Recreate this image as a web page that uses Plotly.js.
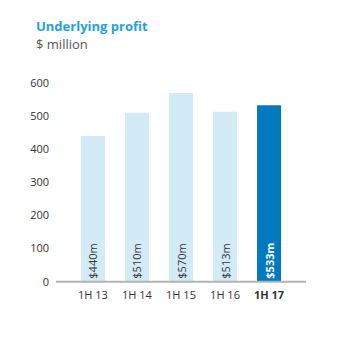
<!DOCTYPE html>
<html><head><meta charset="utf-8">
<script src="https://cdn.plot.ly/plotly-3.0.1.min.js"></script>
<style>body{margin:0;background:#fff}#c{width:341px;height:360px}</style>
</head><body><div id="c"></div>
<script>
var categories = ['1H 13','1H 14','1H 15','1H 16','1H 17'];
var tickLabels = ['1H 13','1H 14','1H 15','1H 16','<b>1H 17</b>'];
var profit = [440, 510, 570, 513, 533];
var barLabels = ['$440m','$510m','$570m','$513m','<b>$533m</b>'];
var yTicks = [0,100,200,300,400,500,600];

var light = '#d3eaf7', dark = '#0079bf';
var colors = categories.map(function(c,i){return i===categories.length-1?dark:light;});
var textColors = categories.map(function(c,i){return i===categories.length-1?'#ffffff':'#333333';});

var trace = {
  type:'bar', x:[0,1,2,3,4], y:profit, width:0.545,
  marker:{color:colors},
  text:barLabels, textposition:'inside', insidetextanchor:'start', textangle:-90,
  textfont:{family:'Open Sans, sans-serif', size:11, color:textColors},
  hoverinfo:'none', cliponaxis:false
};
var layout = {
  width:341, height:360, paper_bgcolor:'#fff', plot_bgcolor:'#fff',
  margin:{l:56, r:35, t:83, b:77},
  showlegend:false,
  font:{family:'Open Sans, sans-serif', color:'#333'},
  xaxis:{range:[-0.84,4.84], tickvals:[0,1,2,3,4], ticktext:tickLabels, showgrid:false,
         zeroline:false, showline:false, ticks:'', tickfont:{size:11,color:'#333'}, ticklabelstandoff:4, fixedrange:true},
  yaxis:{range:[-4,600], tickvals:yTicks, showgrid:false, zeroline:false, showline:false,
         ticks:'', tickfont:{size:11,color:'#333'}, ticklabelstandoff:6},
  shapes:[{type:'line', xref:'paper', yref:'y', x0:0, x1:1, y0:0, y1:0, line:{color:'#b3b3b3', width:2}, layer:'above'}],
  annotations:[
    {xref:'paper', yref:'paper', x:-0.09, y:1.0, xanchor:'left', yanchor:'bottom', yshift:46, showarrow:false,
     text:'<b>Underlying profit</b>', font:{size:13, color:'#1ea3dc'}},
    {xref:'paper', yref:'paper', x:-0.09, y:1.0, xanchor:'left', yanchor:'bottom', yshift:28, showarrow:false,
     text:'$ million', font:{size:13, color:'#555'}}
  ]
};
Plotly.newPlot('c',[trace],layout,{displayModeBar:false,staticPlot:true});
</script></body></html>
